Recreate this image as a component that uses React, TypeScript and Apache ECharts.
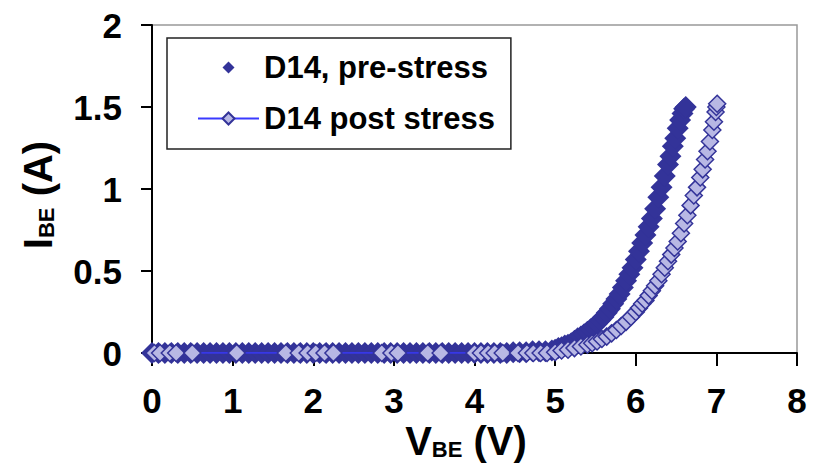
import React, { useEffect, useRef } from "react";
import * as echarts from "echarts";

const seriesNames = ["D14, pre-stress", "D14 post stress"];

// pre-stress measurement (V_BE in volts, I_BE in amps)
const preV = [
  0.0, 0.08, 0.16, 0.24, 0.32, 0.4, 0.48, 0.56, 0.64, 0.72, 0.8, 0.88, 0.96,
  1.04, 1.12, 1.2, 1.28, 1.36, 1.44, 1.52, 1.6, 1.68, 1.76, 1.84, 1.92, 2.0,
  2.08, 2.16, 2.24, 2.32, 2.4, 2.48, 2.56, 2.64, 2.72, 2.8, 2.88, 2.96, 3.04,
  3.12, 3.2, 3.28, 3.36, 3.44, 3.52, 3.6, 3.68, 3.76, 3.84, 3.92, 4.0, 4.08,
  4.16, 4.24, 4.32, 4.4, 4.48, 4.56, 4.64, 4.72, 4.8, 4.88, 4.96,
  5.0, 5.04, 5.08, 5.12, 5.16, 5.2, 5.24, 5.28, 5.32, 5.36, 5.4, 5.44, 5.48,
  5.52, 5.56, 5.6, 5.64, 5.68, 5.72, 5.76, 5.8, 5.84, 5.88, 5.92, 5.96, 6.0,
  6.04, 6.08, 6.12, 6.16, 6.2, 6.24, 6.28, 6.32, 6.36, 6.4, 6.43, 6.46, 6.49,
  6.52, 6.55, 6.58, 6.6, 6.62,
];
const preI = [
  0.0, 0.0, 0.0, 0.0, 0.0, 0.0, 0.0, 0.0, 0.0, 0.0, 0.0, 0.0, 0.0, 0.0, 0.0,
  0.0, 0.0, 0.0, 0.0, 0.0, 0.0, 0.0, 0.0, 0.0, 0.0, 0.0, 0.0, 0.0, 0.0, 0.0,
  0.0, 0.0, 0.0, 0.0, 0.0, 0.0, 0.0, 0.0, 0.0, 0.0, 0.0, 0.0, 0.0, 0.0, 0.0,
  0.0, 0.0, 0.0, 0.0, 0.0, 0.0, 0.0, 0.0, 0.0, 0.0, 0.0, 0.005, 0.005, 0.005,
  0.01, 0.01, 0.01, 0.015,
  0.02, 0.03, 0.035, 0.045, 0.05, 0.06, 0.075, 0.09, 0.1, 0.115, 0.13, 0.145,
  0.16, 0.18, 0.2, 0.22, 0.245, 0.27, 0.3, 0.33, 0.36, 0.4, 0.44, 0.48, 0.52,
  0.57, 0.62, 0.67, 0.72, 0.77, 0.82, 0.88, 0.95, 1.01, 1.08, 1.15, 1.2, 1.26,
  1.31, 1.37, 1.42, 1.46, 1.49, 1.5,
];

// post-stress measurement
const postV = [
  0.03, 0.1, 0.22, 0.3, 0.5, 1.05, 1.66, 1.82, 1.93, 2.03, 2.14, 2.25, 2.85,
  2.97, 3.05, 3.42, 3.58, 4.0, 4.08, 4.17, 4.25, 4.35, 4.54, 4.65, 4.73, 4.82,
  4.9, 5.0, 5.08, 5.16, 5.24, 5.32, 5.4, 5.46, 5.52, 5.58, 5.64, 5.7, 5.76,
  5.82, 5.88, 5.94, 6.0, 6.04, 6.08, 6.12, 6.16, 6.2, 6.24, 6.28, 6.32, 6.36,
  6.4, 6.44, 6.48, 6.52, 6.56, 6.6, 6.64, 6.68, 6.72, 6.76, 6.8, 6.83, 6.86,
  6.89, 6.92, 6.95, 6.97, 6.99, 7.0, 7.01,
];
const postI = [
  0.0, 0.0, 0.0, 0.0, 0.0, 0.0, 0.0, 0.0, 0.0, 0.0, 0.0, 0.0, 0.0, 0.0, 0.0,
  0.0, 0.0, 0.0, 0.0, 0.0, 0.0, 0.0, 0.0, 0.0, 0.0, 0.0, 0.0, 0.005, 0.015,
  0.02, 0.03, 0.04, 0.05, 0.06, 0.07, 0.085, 0.1, 0.12, 0.14, 0.165, 0.19,
  0.22, 0.25, 0.275, 0.3, 0.32, 0.35, 0.38, 0.41, 0.44, 0.48, 0.52, 0.56, 0.6,
  0.64, 0.68, 0.73, 0.79, 0.84, 0.9, 0.96, 1.01, 1.07, 1.12, 1.18, 1.23, 1.29,
  1.36, 1.41, 1.47, 1.5, 1.52,
];

const xTicks = { min: 0, max: 8, interval: 1 };
const yTicks = { min: 0, max: 2, interval: 0.5 };

const FONT = "'Liberation Sans', Arial, Helvetica, sans-serif";

export default function App() {
  const ref = useRef<HTMLDivElement>(null);
  useEffect(() => {
    if (!ref.current) return;
    const chart = echarts.init(ref.current, undefined, { renderer: "svg" });
    const pre = preV.map((v, i) => [v, preI[i]]);
    const post = postV.map((v, i) => [v, postI[i]]);
    const axisLabel = {
      color: "#000",
      fontSize: 35,
      fontWeight: "bold" as const,
      fontFamily: FONT,
    };
    const titleRich = {
      m: { fontSize: 40, fontWeight: "bold", fontFamily: FONT, lineHeight: 44, fill: "#000" },
      s: { fontSize: 22, fontWeight: "bold", fontFamily: FONT, verticalAlign: "bottom", lineHeight: 22, padding: [0, 0, 3, 0], fill: "#000" },
    };
    chart.setOption({
      animation: false,
      backgroundColor: "#fff",
      grid: {
        left: 152,
        right: 16,
        top: 25,
        bottom: 111,
        show: true,
        borderColor: "#999",
        borderWidth: 1.5,
        backgroundColor: "#fff",
      },
      xAxis: {
        type: "value",
        min: xTicks.min,
        max: xTicks.max,
        interval: xTicks.interval,
        splitLine: { show: false },
        axisLine: { show: true, onZero: false, lineStyle: { color: "#000", width: 2 } },
        axisTick: { show: true, length: 13, lineStyle: { color: "#000", width: 2 } },
        axisLabel: { ...axisLabel, margin: 30 },
      },
      yAxis: {
        type: "value",
        min: yTicks.min,
        max: yTicks.max,
        interval: yTicks.interval,
        splitLine: { show: false },
        axisLine: { show: true, onZero: false, lineStyle: { color: "#000", width: 2 } },
        axisTick: { show: true, length: 11, lineStyle: { color: "#000", width: 2 } },
        axisLabel: { ...axisLabel, margin: 30 },
      },
      legend: {
        left: 167,
        top: 38,
        orient: "vertical",
        padding: [14, 16, 15, 30],
        itemGap: 20,
        itemWidth: 61,
        itemHeight: 15,
        borderColor: "#222",
        borderWidth: 1.5,
        backgroundColor: "#fff",
        textStyle: {
          fontSize: 31,
          fontWeight: "bold",
          color: "#000",
          fontFamily: FONT,
        },
        data: seriesNames,
      },
      graphic: [
        {
          type: "text",
          x: 466,
          y: 441,
          style: {
            text: "{m|V}{s|BE}{m| (V)}",
            align: "center",
            verticalAlign: "middle",
            fill: "#000",
            rich: titleRich,
          },
        },
        {
          type: "text",
          x: 38,
          y: 195,
          rotation: Math.PI / 2,
          style: {
            text: "{m|I}{s|BE}{m| (A)}",
            align: "center",
            verticalAlign: "middle",
            fill: "#000",
            rich: titleRich,
          },
        },
      ],
      series: [
        {
          name: seriesNames[0],
          type: "line",
          data: pre,
          symbol: "diamond",
          symbolSize: 22,
          showAllSymbol: true,
          lineStyle: { width: 0, opacity: 0 },
          itemStyle: { color: "#333399" },
          z: 2,
        },
        {
          name: seriesNames[1],
          type: "line",
          data: post,
          symbol: "diamond",
          symbolSize: 17,
          showAllSymbol: true,
          lineStyle: { width: 1.5, color: "#3a3aff" },
          itemStyle: { color: "#b8b8e4", borderColor: "#333399", borderWidth: 1.5 },
          z: 3,
        },
      ],
    });
    return () => chart.dispose();
  }, []);
  return (
    <div
      ref={ref}
      style={{ position: "absolute", left: 0, top: 0, width: 813, height: 464 }}
    />
  );
}
